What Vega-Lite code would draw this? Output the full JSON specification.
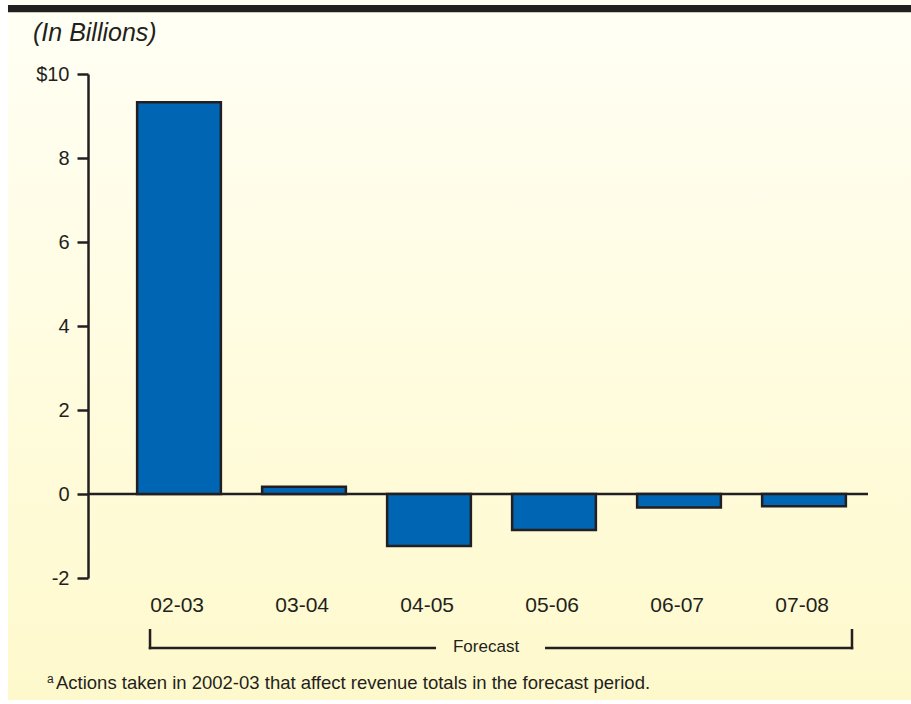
{
  "$schema": "https://vega.github.io/schema/vega-lite/v6.json",
  "autosize": {"type": "none"},
  "width": 780,
  "height": 504,
  "padding": {"left": 88, "top": 74, "right": 43, "bottom": 126},
  "background": "#FFFFFF",
  "config": {
    "view": {"stroke": null},
    "font": "Liberation Sans",
    "text": {"font": "Liberation Sans", "color": "#231F20"}
  },
  "data": {
    "values": [
      {"year": "02-03", "value": 9.33},
      {"year": "03-04", "value": 0.17},
      {"year": "04-05", "value": -1.24},
      {"year": "05-06", "value": -0.86},
      {"year": "06-07", "value": -0.32},
      {"year": "07-08", "value": -0.29}
    ]
  },
  "layer": [
    {
      "data": {"values": [{}]},
      "mark": {
        "type": "rect",
        "fill": {
          "gradient": "linear", "x1": 0, "y1": 0, "x2": 0, "y2": 1,
          "stops": [{"offset": 0, "color": "#FFFFF5"}, {"offset": 0.5, "color": "#FFFCE0"}, {"offset": 1, "color": "#FEF9CC"}]
        }
      },
      "encoding": {
        "x": {"datum": "02-03", "bandPosition": -1.542},
        "x2": {"datum": "07-08", "bandPosition": 1.778},
        "y": {"datum": 11.762},
        "y2": {"datum": -4.905}
      }
    },
    {
      "data": {"values": [{}]},
      "mark": {"type": "rect", "fill": "#231F20"},
      "encoding": {
        "x": {"datum": "02-03", "bandPosition": -1.542},
        "x2": {"datum": "07-08", "bandPosition": 1.778},
        "y": {"datum": 11.643},
        "y2": {"datum": 11.469}
      }
    },
    {
      "data": {"values": [{}]},
      "mark": {"type": "rule", "color": "#231F20", "strokeWidth": 2.5},
      "encoding": {"y": {"datum": 0}}
    },
    {
      "mark": {"type": "bar", "fill": "#0066B3", "stroke": "#231F20", "strokeWidth": 2.5},
      "encoding": {
        "x": {
          "field": "year",
          "type": "nominal",
          "sort": null,
          "scale": {
            "domain": ["02-03", "03-04", "04-05", "05-06", "06-07", "07-08"],
            "range": [28.5, 778.5],
            "paddingInner": 0.33,
            "paddingOuter": 0.165
          },
          "axis": {
            "title": null,
            "domain": false,
            "ticks": false,
            "tickSize": 0,
            "bandPosition": 0.5,
            "labelOffset": 25,
            "zindex": 2,
            "labelAngle": 0,
            "labelPadding": 27,
            "labelFontSize": 21,
            "labelFont": "Liberation Sans",
            "labelColor": "#231F20"
          }
        },
        "y": {
          "field": "value",
          "type": "quantitative",
          "scale": {"domain": [-2, 10], "nice": false, "zero": false},
          "axis": {
            "title": null,
            "grid": false,
            "zindex": 2,
            "values": [-2, 0, 2, 4, 6, 8, 10],
            "labelExpr": "datum.value == 10 ? '$10' : '' + datum.value",
            "domainColor": "#231F20",
            "domainWidth": 2.5,
            "tickColor": "#231F20",
            "tickWidth": 2.5,
            "tickSize": 11,
            "labelPadding": 8,
            "labelFontSize": 20,
            "labelFont": "Liberation Sans",
            "labelColor": "#231F20"
          }
        }
      }
    },
    {
      "data": {"values": [{}]},
      "mark": {"type": "rect", "fill": "#231F20"},
      "encoding": {
        "x": {"datum": "02-03", "bandPosition": 0.139},
        "x2": {"datum": "04-05", "bandPosition": 0.584},
        "y": {"datum": -3.637},
        "y2": {"datum": -3.697}
      }
    },
    {
      "data": {"values": [{}]},
      "mark": {"type": "rect", "fill": "#231F20"},
      "encoding": {
        "x": {"datum": "05-06", "bandPosition": 0.393},
        "x2": {"datum": "07-08", "bandPosition": 1.088},
        "y": {"datum": -3.637},
        "y2": {"datum": -3.697}
      }
    },
    {
      "data": {"values": [{}]},
      "mark": {"type": "rect", "fill": "#231F20"},
      "encoding": {
        "x": {"datum": "02-03", "bandPosition": 0.139},
        "x2": {"datum": "02-03", "bandPosition": 0.169},
        "y": {"datum": -3.214},
        "y2": {"datum": -3.697}
      }
    },
    {
      "data": {"values": [{}]},
      "mark": {"type": "rect", "fill": "#231F20"},
      "encoding": {
        "x": {"datum": "07-08", "bandPosition": 1.058},
        "x2": {"datum": "07-08", "bandPosition": 1.088},
        "y": {"datum": -3.214},
        "y2": {"datum": -3.697}
      }
    },
    {
      "data": {"values": [{"label": "Forecast"}]},
      "mark": {"type": "text", "fontSize": 17, "align": "center", "baseline": "middle"},
      "encoding": {
        "x": {"datum": "04-05", "bandPosition": 1.181},
        "y": {"datum": -3.643},
        "text": {"field": "label"}
      }
    },
    {
      "data": {"values": [{"label": "(In Billions)"}]},
      "mark": {"type": "text", "fontSize": 25, "fontStyle": "italic", "align": "left", "baseline": "alphabetic"},
      "encoding": {
        "x": {"datum": "02-03", "bandPosition": -1.243},
        "y": {"datum": 10.786},
        "text": {"field": "label"}
      }
    },
    {
      "data": {"values": [{"label": "a"}]},
      "mark": {"type": "text", "fontSize": 12, "align": "left", "baseline": "alphabetic"},
      "encoding": {
        "x": {"datum": "02-03", "bandPosition": -1.076},
        "y": {"datum": -4.5},
        "text": {"field": "label"}
      }
    },
    {
      "data": {"values": [{"label": "Actions taken in 2002-03 that affect revenue totals in the forecast period."}]},
      "mark": {"type": "text", "fontSize": 18.5, "align": "left", "baseline": "alphabetic"},
      "encoding": {
        "x": {"datum": "02-03", "bandPosition": -0.969},
        "y": {"datum": -4.643},
        "text": {"field": "label"}
      }
    }
  ]
}
